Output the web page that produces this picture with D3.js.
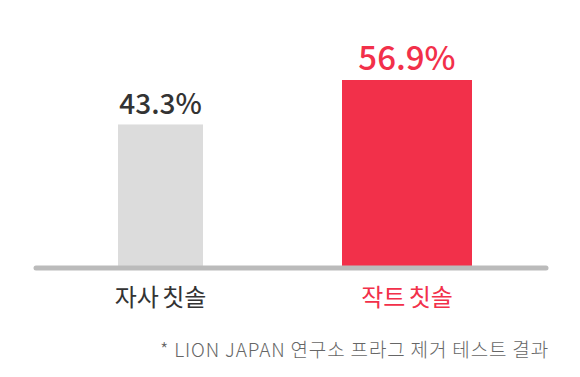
<!DOCTYPE html>
<html><head><meta charset="utf-8">
<script src="https://cdn.jsdelivr.net/npm/d3@7"></script>
<style>body{margin:0;background:#fff}svg{display:block}text{font-family:"Noto Sans CJK KR","Noto Sans",sans-serif}</style>
</head><body>
<script>
const categories = ["자사 칫솔", "작트 칫솔"];
const values = [43.3, 56.9];
const valueLabels = ["43.3%", "56.9%"];
const footnote = "* LION JAPAN 연구소 프라그 제거 테스트 결과";

const W = 580, H = 377;
const colors = ["#dcdcdc", "#f2304a"];
const labelColors = ["#333333", "#f2304a"];
const barWidths = [85, 130];
const valueFont = [28, 33];

const svg = d3.select("body").append("svg").attr("width", W).attr("height", H);
const x = d3.scalePoint().domain(categories).range([160.5, 407]);
const y = d3.scaleLinear().domain([0, 56.9]).range([266, 80]);

svg.selectAll("rect.bar").data(values).join("rect").attr("class", "bar")
  .attr("x", (d, i) => x(categories[i]) - barWidths[i] / 2)
  .attr("width", (d, i) => barWidths[i])
  .attr("y", d => y(d)).attr("height", d => y(0) - y(d))
  .attr("fill", (d, i) => colors[i]);

svg.append("line").attr("x1", 36).attr("x2", 546).attr("y1", 268).attr("y2", 268)
  .attr("stroke", "#bbbbbb").attr("stroke-width", 5).attr("stroke-linecap", "round");

svg.selectAll("text.val").data(values).join("text").attr("class", "val")
  .attr("x", (d, i) => x(categories[i])).attr("y", d => y(d) - 10)
  .attr("text-anchor", "middle").attr("font-size", (d, i) => valueFont[i])
  .attr("font-weight", 500).attr("fill", (d, i) => labelColors[i])
  .text((d, i) => valueLabels[i]);

svg.selectAll("text.cat").data(categories).join("text").attr("class", "cat")
  .attr("x", d => x(d)).attr("y", 306).attr("text-anchor", "middle")
  .attr("font-size", 24).attr("font-weight", 400).attr("fill", (d, i) => labelColors[i])
  .attr("word-spacing", -2)
  .text(d => d);

svg.append("text").attr("x", 549).attr("y", 357).attr("text-anchor", "end")
  .attr("font-size", 19).attr("font-weight", 300).attr("letter-spacing", 0.85)
  .attr("fill", "#666").text(footnote);
</script>
</body></html>
